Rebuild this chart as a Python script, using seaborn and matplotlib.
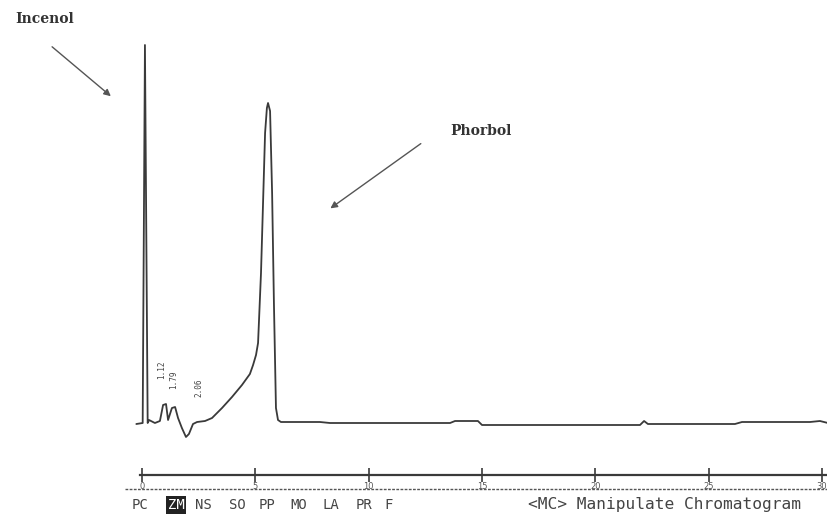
import numpy as np
import pandas as pd
import matplotlib
matplotlib.use("Agg")
import matplotlib.pyplot as plt
import seaborn as sns

# ---- data (time in min, detector signal arbitrary units) ----
time_min = [-0.25, 0.03, 0.13, 0.25, 0.31, 0.57, 0.79, 0.93, 1.06, 1.15, 1.32, 1.46,
            1.59, 1.76, 1.94, 2.07, 2.25, 2.43, 2.78, 3.09, 3.53, 3.97, 4.41, 4.76,
            4.90, 5.03, 5.12, 5.25, 5.34, 5.43, 5.51, 5.56, 5.65, 5.74, 5.82, 5.91,
            6.00, 6.13, 7.85, 8.29, 13.59, 13.81, 14.82, 15.00, 21.97, 22.15, 22.32,
            26.16, 26.47, 29.47, 29.91, 30.26]
signal = [-1, 0, 378, 0, 3, 0, 2, 18, 19, 3, 15, 16,
          5, -5, -14, -11, -1, 1, 2, 5, 15, 26, 38, 49,
          58, 68, 80, 150, 220, 290, 315, 320, 312, 230, 120, 15,
          3, 1, 1, 0, 0, 2, 2, -2, -2, 2, -1,
          -1, 1, 1, 2, 0]
tick_values = [0, 5, 10, 15, 20, 25, 30]
tick_labels = ["0", "5", "10", "15", "20", "25", "30"]
peak_names = ["Incenol", "Phorbol"]
small_peak_labels = ["1.12", "1.79", "2.06"]
menu_items = ["PC", "ZM", "NS", "SO", "PP", "MO", "LA", "PR", "F"]
status_text = "<MC> Manipulate Chromatogram"

df = pd.DataFrame({"time": time_min, "signal": signal})

sns.set_theme(style="white")
plt.rcParams["font.family"] = ["DejaVu Sans"]

W, H = 828, 523
fig = plt.figure(figsize=(W / 100, H / 100), dpi=100)
ax = fig.add_axes([0, 0, 1, 1])
ax.set_facecolor("white")
fig.patch.set_facecolor("white")

px_per_min = 22.667
x0_px = 142
base_px = 423
ax.set_xlim(-x0_px / px_per_min, (W - x0_px) / px_per_min)
ax.set_ylim(base_px - H, base_px)

ink = "#3a3a3a"
sns.lineplot(data=df, x="time", y="signal", ax=ax, color=ink, linewidth=1.3,
             estimator=None, sort=False)

# axis styling: only a bottom baseline with ticks, like the printer output
for s in ["top", "left", "right"]:
    ax.spines[s].set_visible(False)
ax.spines["bottom"].set_position(("data", -52))
ax.spines["bottom"].set_bounds(-0.1, 30.3)
ax.spines["bottom"].set_color(ink)
ax.spines["bottom"].set_linewidth(1.6)
ax.set_xticks(tick_values)
ax.set_xticklabels(tick_labels)
ax.set_yticks([])
ax.tick_params(axis="x", direction="inout", length=10, width=1.2, color=ink,
               labelsize=6, labelcolor="#555555", pad=0, bottom=True)
ax.set_xlabel("")
ax.set_ylabel("")
ax.grid(False)

# second (dotted) rule under the axis
ax.hlines(-66, -0.75, 30.3, colors="#555555", linewidth=1.0,
          linestyles=(0, (2, 1)))

# peak labels with arrows
ax.annotate("", xy=(-1.28, 325), xytext=(-4.06, 378),
            arrowprops=dict(arrowstyle="-|>", color="#555555", lw=1.0,
                            mutation_scale=10))
ax.text(-5.60, 404, peak_names[0], fontsize=10, fontweight="bold",
        family="DejaVu Serif", color="#333333", ha="left", va="center")
ax.annotate("", xy=(8.21, 213), xytext=(12.40, 281),
            arrowprops=dict(arrowstyle="-|>", color="#555555", lw=1.0,
                            mutation_scale=10))
ax.text(13.59, 292, peak_names[1], fontsize=10, fontweight="bold",
        family="DejaVu Serif", color="#333333", ha="left", va="center")

# small retention-time prints near the minor peaks
for t, y, lab in zip([0.88, 1.41, 2.51], [53, 43, 35], small_peak_labels):
    ax.text(t, y, lab, rotation=90, fontsize=5.5, family="DejaVu Sans Mono",
            color="#444444", ha="center", va="center")

# bottom menu line
menu_x = [140, 176, 203, 237, 267, 299, 331, 364, 389]
for i, (mx, item) in enumerate(zip(menu_x, menu_items)):
    if i == 1:
        fig.text(mx / W, 1 - 505 / H, item, fontsize=10, family="DejaVu Sans Mono",
                 color="white", ha="center", va="center",
                 bbox=dict(boxstyle="square,pad=0.12", fc="#222222", ec="none"))
    else:
        fig.text(mx / W, 1 - 505 / H, item, fontsize=10, family="DejaVu Sans Mono",
                 color="#444444", ha="center", va="center")
fig.text(528 / W, 1 - 505 / H, status_text, fontsize=11.7, family="DejaVu Sans Mono",
         color="#444444", ha="left", va="center")

fig.savefig("out.png", dpi=100, facecolor="white")
